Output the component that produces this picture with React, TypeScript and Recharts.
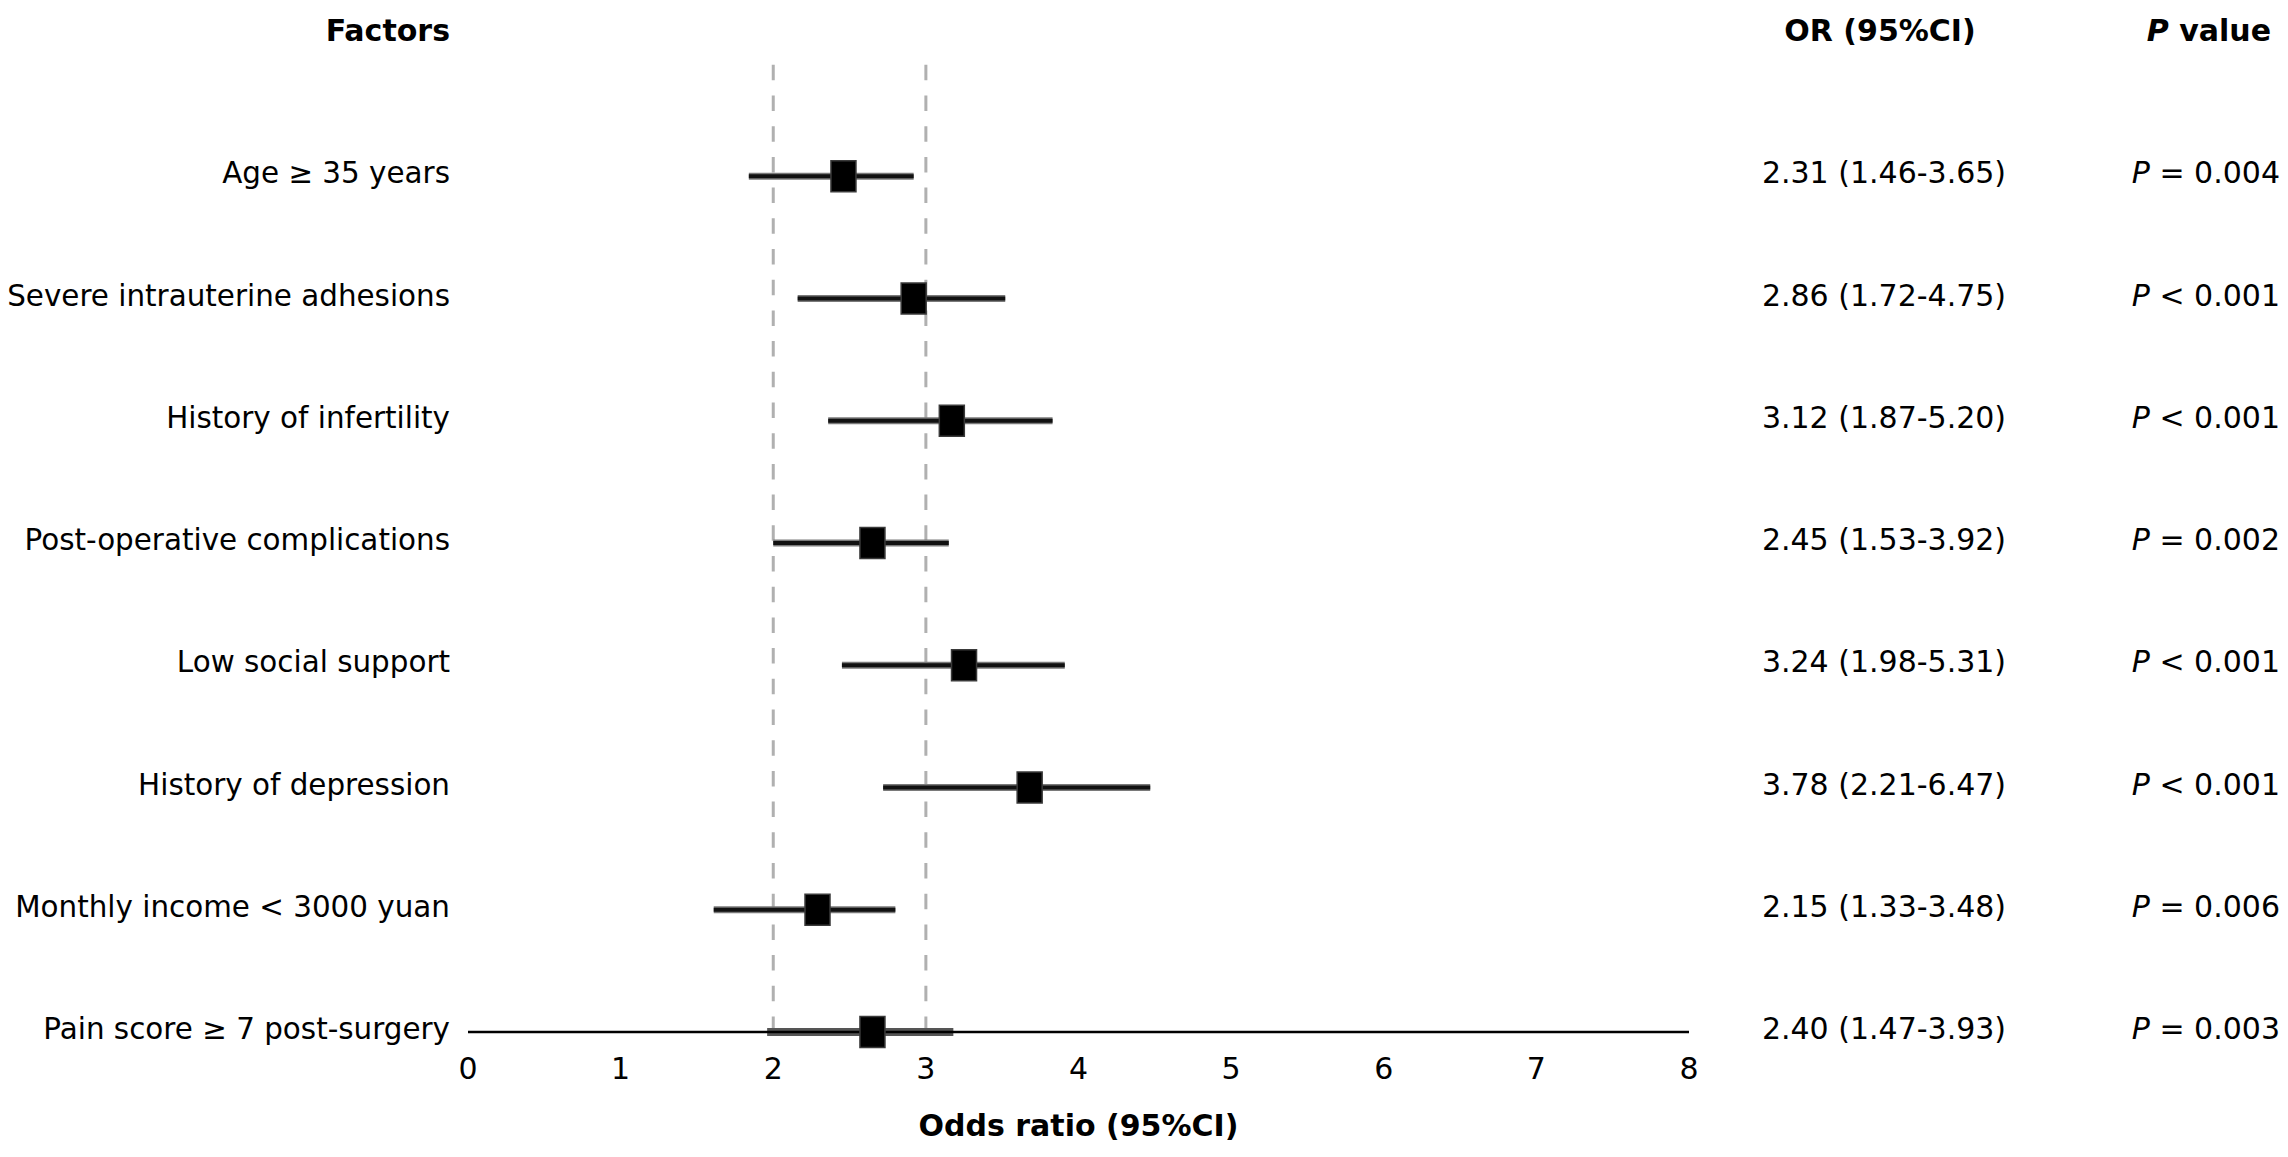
import React from 'react';
import { ScatterChart, Scatter, XAxis, YAxis, ErrorBar, ReferenceLine, Customized } from 'recharts';

const factors = [
  'Age ≥ 35 years',
  'Severe intrauterine adhesions',
  'History of infertility',
  'Post-operative complications',
  'Low social support',
  'History of depression',
  'Monthly income < 3000 yuan',
  'Pain score ≥ 7 post-surgery',
];
// values as drawn in the plot
const estimates = [2.46, 2.92, 3.17, 2.65, 3.25, 3.68, 2.29, 2.65];
const lowers = [1.84, 2.16, 2.36, 2.0, 2.45, 2.72, 1.61, 1.96];
const uppers = [2.92, 3.52, 3.83, 3.15, 3.91, 4.47, 2.8, 3.18];
// text columns
const orLabels = [
  '2.31 (1.46-3.65)',
  '2.86 (1.72-4.75)',
  '3.12 (1.87-5.20)',
  '2.45 (1.53-3.92)',
  '3.24 (1.98-5.31)',
  '3.78 (2.21-6.47)',
  '2.15 (1.33-3.48)',
  '2.40 (1.47-3.93)',
];
const pSigns = ['=', '<', '<', '=', '<', '<', '=', '='];
const pValues = ['0.004', '0.001', '0.001', '0.002', '0.001', '0.001', '0.006', '0.003'];
const xTicks = [0, 1, 2, 3, 4, 5, 6, 7, 8];
const rowTicks = [1, 2, 3, 4, 5, 6, 7, 8];
const refValues = [2, 3];

const rows = factors.map((f, i) => ({
  row: i + 1,
  factor: f,
  est: estimates[i],
  err: [estimates[i] - lowers[i], uppers[i] - estimates[i]],
}));
const mainRows = rows.slice(0, 7);
const lastRows = rows.slice(7);

const FONT = 'DejaVu Sans';
const FS = 30;

const RowTick = (props: any) => {
  const { y, payload } = props;
  const i = payload.value - 1;
  if (i < 0 || i >= factors.length) return null;
  const by = y + 7;
  return (
    <g fontFamily={FONT} fontSize={FS} fill="#000">
      <text x={450} y={by} textAnchor="end" fill="#000" fontSize={29.4}>{factors[i]}</text>
      <text x={1884} y={by} textAnchor="middle" fill="#000">{orLabels[i]}</text>
      <text x={2280} y={by} textAnchor="end" fill="#000">
        <tspan fontStyle="italic">P</tspan>
        {` ${pSigns[i]} ${pValues[i]}`}
      </text>
    </g>
  );
};

const Square = (props: any) => {
  const { cx, cy } = props;
  return <rect x={cx - 12.5} y={cy - 15.5} width={25} height={31} fill="#000" stroke="#3a3a3a" strokeWidth={1.5} />;
};

const Headers = () => (
  <g fontFamily={FONT} fontSize={FS} fontWeight="bold" fill="#000">
    <text x={450} y={41} textAnchor="end">Factors</text>
    <text x={1880} y={41} textAnchor="middle">OR (95%CI)</text>
    <text x={2271} y={41} textAnchor="end">
      <tspan fontStyle="italic">P</tspan> value
    </text>
  </g>
);

export default function App() {
  return (
    <div style={{ position: 'absolute', left: 0, top: 0, width: 2288, height: 1157, background: '#fff', fontFamily: FONT }}>
      <ScatterChart width={2288} height={1157} margin={{ top: 54, right: 599, bottom: 0, left: 0 }}>
        <XAxis
          type="number"
          dataKey="est"
          domain={[0, 8]}
          ticks={xTicks}
          interval={0}
          tickLine={false}
          tickSize={0}
          tickMargin={26}
          axisLine={{ stroke: '#000', strokeWidth: 2.5 }}
          tick={{ fill: '#000', fontSize: FS, fontFamily: FONT }}
          height={125}
          label={{
            value: 'Odds ratio (95%CI)',
            position: 'insideBottom',
            offset: 21,
            style: { fontWeight: 'bold', fontSize: FS, fill: '#000', fontFamily: FONT },
          }}
        />
        <YAxis
          type="number"
          dataKey="row"
          domain={[0, 8]}
          reversed
          ticks={rowTicks}
          interval={0}
          width={468}
          tickLine={false}
          axisLine={false}
          tick={<RowTick />}
        />
        {refValues.map((v) => (
          <ReferenceLine key={v} x={v} stroke="#b0b0b0" strokeWidth={3} strokeDasharray="15.5 15.2" />
        ))}
        <Scatter data={mainRows} shape={<Square />} isAnimationActive={false}>
          <ErrorBar dataKey="err" direction="x" width={0} stroke="#7a7a7a" strokeWidth={7} isAnimationActive={false} />
          <ErrorBar dataKey="err" direction="x" width={0} stroke="#111" strokeWidth={4} isAnimationActive={false} />
        </Scatter>
        <Scatter data={lastRows} shape={<Square />} isAnimationActive={false}>
          <ErrorBar dataKey="err" direction="x" width={0} stroke="#555" strokeWidth={8} isAnimationActive={false} />
        </Scatter>
        <Customized component={Headers} />
      </ScatterChart>
    </div>
  );
}
